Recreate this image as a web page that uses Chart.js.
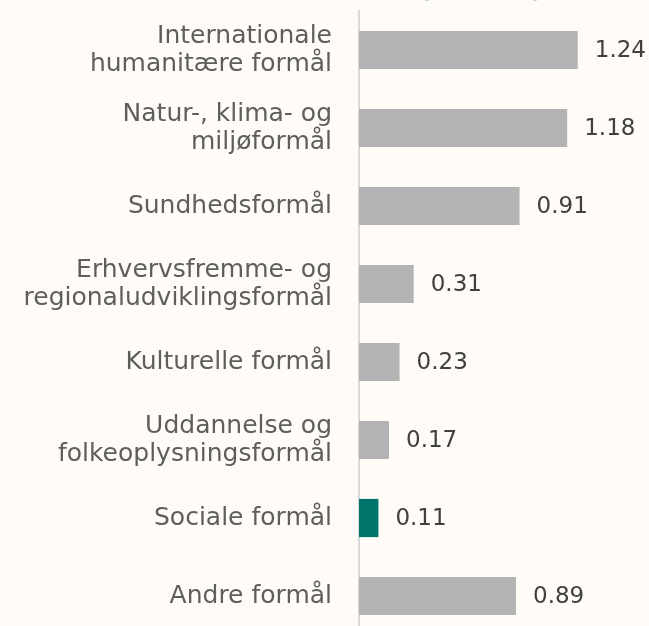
<!DOCTYPE html>
<html>
<head>
<meta charset="utf-8">
<script src="https://cdn.jsdelivr.net/npm/chart.js@4"></script>
<style>
  html, body { margin: 0; padding: 0; background: #fffcf7; overflow: hidden; }
  #wrap { width: 649px; height: 650px; }
</style>
</head>
<body>
<div id="wrap"><canvas id="chart" width="649" height="650"></canvas></div>
<script>
// kategorier (flere linjer pr. label)
const categories = [
  ["Internationale", "humanitære formål"],
  ["Natur-, klima- og", "miljøformål"],
  "Sundhedsformål",
  ["Erhvervsfremme- og", "regionaludviklingsformål"],
  "Kulturelle formål",
  ["Uddannelse og", "folkeoplysningsformål"],
  "Sociale formål",
  "Andre formål",
];
const values = [1.24, 1.18, 0.91, 0.31, 0.23, 0.17, 0.11, 0.89];
const highlight = "Sociale formål";
const unitTitle = "(mia. kr.)";

const FONT = "'DejaVu Sans', sans-serif";
const GRAY = "#b4b4b4";
const TEAL = "#00746a";

// værdier til højre for søjlerne + afskåret enhedstitel øverst
const valueLabels = {
  id: "valueLabels",
  afterDatasetsDraw(chart) {
    const ctx = chart.ctx;
    const meta = chart.getDatasetMeta(0);
    ctx.save();
    ctx.font = "23px " + FONT;
    ctx.fillStyle = "#404040";
    ctx.textAlign = "left";
    ctx.textBaseline = "middle";
    meta.data.forEach((bar, i) => {
      ctx.fillText(values[i].toFixed(2), bar.x + 17, bar.y + 1);
    });
    // titlen ligger næsten helt over kanten
    ctx.font = "bold 24px " + FONT;
    ctx.fillStyle = TEAL;
    ctx.textAlign = "center";
    ctx.textBaseline = "alphabetic";
    ctx.fillText(unitTitle, 481, -3);
    ctx.restore();
  },
};

new Chart(document.getElementById("chart"), {
  type: "bar",
  data: {
    labels: categories,
    datasets: [{
      data: values,
      backgroundColor: categories.map((c) => (c === highlight ? TEAL : GRAY)),
      barPercentage: 0.49,
      categoryPercentage: 1,
    }],
  },
  options: {
    indexAxis: "y",
    responsive: false,
    animation: false,
    layout: { padding: { top: 11, right: 43, bottom: 15, left: 0 } },
    plugins: { legend: { display: false }, tooltip: { enabled: false } },
    scales: {
      x: { display: false, min: 0, max: 1.4 },
      y: {
        afterFit(scale) {
          scale.width = 359;
          scale.paddingTop = 0;
          scale.paddingBottom = 0;
        },
        grid: { display: false },
        border: { display: true, color: "#d9d9d9", width: 2 },
        ticks: {
          color: "#5e5e5e",
          font: { family: FONT, size: 25, lineHeight: 1.12 },
          padding: 19,
        },
      },
    },
  },
  plugins: [valueLabels],
});
</script>
</body>
</html>
